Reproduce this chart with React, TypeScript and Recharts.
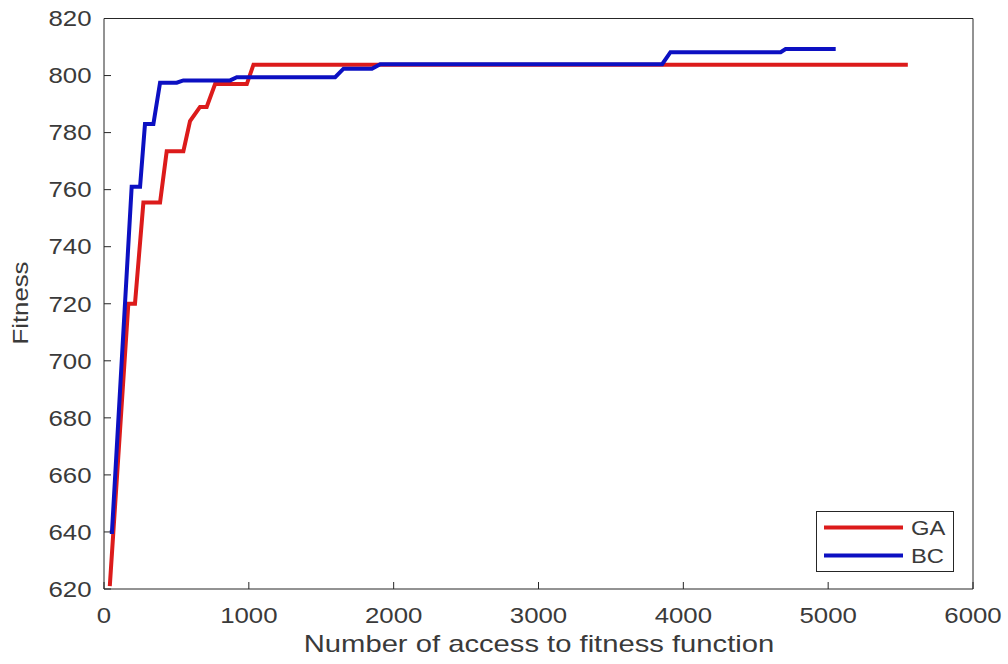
import React from "react"
import { LineChart, Line, XAxis, YAxis, Legend } from "recharts"

// GA run (red)
const gaX = [40, 168, 214, 272, 387, 433, 548, 594, 663, 709, 767, 986, 1032, 5550]
const gaY = [621, 720, 720, 755.5, 755.5, 773.5, 773.5, 784, 789, 789, 797, 797, 803.8, 803.8]

// BC run (blue)
const bcX = [40, 55, 191, 249, 283, 341, 387, 502, 548, 871, 917, 1596, 1654, 1850, 1907, 3854, 3911, 4672, 4706, 5052]
const bcY = [640, 640, 761, 761, 783, 783, 797.5, 797.5, 798.3, 798.3, 799.4, 799.4, 802.4, 802.4, 804, 804, 808.2, 808.2, 809.3, 809.3]

const xTicks = [0, 1000, 2000, 3000, 4000, 5000, 6000]
const yTicks = [620, 640, 660, 680, 700, 720, 740, 760, 780, 800, 820]

const seriesNames = ["GA", "BC"]
const seriesColors = ["#dc1b1b", "#0c10c2"]

const gaData = gaX.map((x, i) => ({ x, GA: gaY[i] }))
const bcData = bcX.map((x, i) => ({ x, BC: bcY[i] }))

const FONT = "'Liberation Sans', Arial, sans-serif"
const TEXT = "#3a3a3a"
const AXIS = "#262626"

const YTick = ({ x, y, payload }: any) => (
  <text
    transform={`translate(${x},${y}) scale(1.2,1)`}
    textAnchor="end"
    dy="0.36em"
    fontFamily={FONT}
    fontSize={21.5}
    fill={TEXT}
  >
    {payload.value}
  </text>
)

const XTick = ({ x, y, payload }: any) => (
  <text
    transform={`translate(${x},${y}) scale(1.2,1)`}
    textAnchor="middle"
    dy="0.72em"
    fontFamily={FONT}
    fontSize={21.5}
    fill={TEXT}
  >
    {payload.value}
  </text>
)

const NoTick = () => <g />

const LegendBox = () => (
  <svg width={138} height={61} style={{ display: "block" }}>
    <rect x={0.5} y={0.5} width={137} height={60} fill="#fff" stroke={AXIS} strokeWidth={1} />
    {seriesNames.map((name, i) => {
      const cy = 16.5 + i * 28
      return (
        <g key={name}>
          <line x1={8} x2={87} y1={cy} y2={cy} stroke={seriesColors[i]} strokeWidth={4} />
          <text
            transform={`translate(95,${cy}) scale(1.22,1)`}
            dy="0.36em"
            fontFamily={FONT}
            fontSize={19.5}
            fill={TEXT}
          >
            {name}
          </text>
        </g>
      )
    })}
  </svg>
)

export default function App() {
  return (
    <div style={{ position: "absolute", left: 0, top: 0, background: "#fff" }}>
      <LineChart
        width={1008}
        height={664}
        margin={{ top: 17.5, right: 34, bottom: 0, left: 0 }}
      >
        <XAxis
          xAxisId="b"
          type="number"
          dataKey="x"
          domain={[0, 6000]}
          ticks={xTicks}
          allowDataOverflow
          height={75}
          stroke={AXIS}
          tickSize={-7}
          tickMargin={26}
          tick={<XTick />}
          label={{
            content: () => (
              <text
                transform="translate(539,652) scale(1.27,1)"
                textAnchor="middle"
                fontFamily={FONT}
                fontSize={23}
                fill={TEXT}
              >
                Number of access to fitness function
              </text>
            ),
          }}
        />
        <XAxis
          xAxisId="t"
          orientation="top"
          type="number"
          dataKey="x"
          domain={[0, 6000]}
          ticks={xTicks}
          height={1}
          stroke={AXIS}
          tickSize={-7}
          tick={<NoTick />}
        />
        <YAxis
          yAxisId="l"
          type="number"
          domain={[620, 820]}
          ticks={yTicks}
          width={104}
          stroke={AXIS}
          tickSize={-7}
          tickMargin={19.5}
          tick={<YTick />}
          label={{
            content: () => (
              <text
                transform="translate(28,303) rotate(-90) scale(1.12,1)"
                textAnchor="middle"
                fontFamily={FONT}
                fontSize={23}
                fill={TEXT}
              >
                Fitness
              </text>
            ),
          }}
        />
        <YAxis
          yAxisId="r"
          orientation="right"
          type="number"
          domain={[620, 820]}
          ticks={yTicks}
          width={1}
          stroke={AXIS}
          tickSize={-7}
          tick={<NoTick />}
        />
        <Line
          xAxisId="b"
          yAxisId="l"
          data={gaData}
          dataKey="GA"
          type="linear"
          stroke={seriesColors[0]}
          strokeWidth={4}
          dot={false}
          isAnimationActive={false}
        />
        <Line
          xAxisId="b"
          yAxisId="l"
          data={bcData}
          dataKey="BC"
          type="linear"
          stroke={seriesColors[1]}
          strokeWidth={4}
          dot={false}
          isAnimationActive={false}
        />
        <Legend
          layout="vertical"
          verticalAlign="middle"
          align="center"
          wrapperStyle={{ left: 816, top: 511, width: 138, height: 61 }}
          content={() => <LegendBox />}
        />
      </LineChart>
    </div>
  )
}
